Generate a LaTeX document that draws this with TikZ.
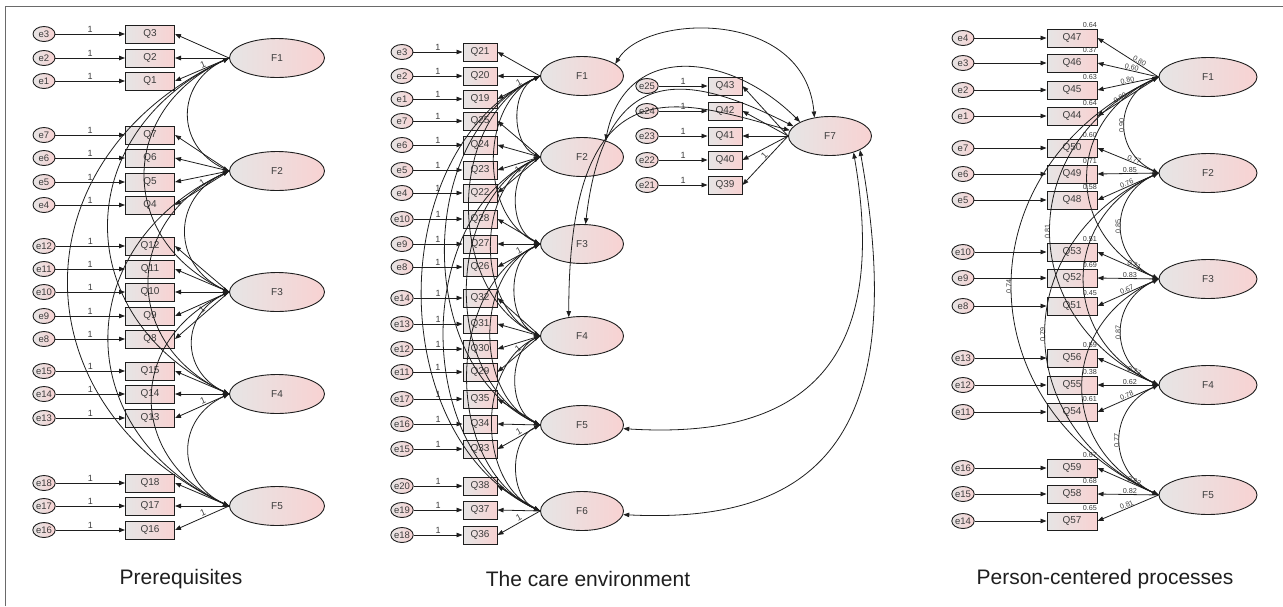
\documentclass[tikz,border=0pt]{standalone}
\usepackage{fontspec}
\setmainfont{Liberation Sans}
\usetikzlibrary{arrows.meta,shapes.geometric,positioning}
\definecolor{ink}{HTML}{1E1E1E}
\definecolor{txt}{HTML}{3C3C3C}
\definecolor{frame}{HTML}{6A6A6A}
\definecolor{shadeL}{HTML}{E6E5E5}
\definecolor{shadeR}{HTML}{F8D2D2}

\begin{document}
\begin{tikzpicture}[
  x=1pt,y=1pt,
  err/.style={ellipse,draw=ink,line width=.9pt,left color=shadeL,right color=shadeR,
              minimum width=22pt,minimum height=15pt,inner sep=0pt,
              font=\fontsize{9.5}{10}\selectfont,text=txt},
  obs/.style={rectangle,draw=ink,line width=1pt,left color=shadeL,right color=shadeR,
              minimum width=#1,minimum height=18pt,inner sep=0pt,
              font=\fontsize{10}{11}\selectfont,text=txt},
  lat/.style={ellipse,draw=ink,line width=.9pt,left color=shadeL,right color=shadeR,
              minimum width=#1,minimum height=39pt,inner sep=0pt,
              font=\fontsize{10}{11}\selectfont,text=txt},
  arr/.style={-{Triangle[length=6pt,width=4.5pt]},draw=ink,line width=.8pt},
  cov/.style={{Triangle[length=6pt,width=4.5pt]}-{Triangle[length=6pt,width=4.5pt]},
              draw=ink,line width=.8pt},
  covarc/.style={cov,out=205,in=155,looseness=#1},
  one/.style={font=\fontsize{9}{10}\selectfont,text=txt,inner sep=1pt},
  est/.style={font=\fontsize{7.2}{8}\selectfont,text=txt,inner sep=.4pt},
  caption/.style={font=\fontsize{21}{25}\selectfont,text=ink}
]
\useasboundingbox (0,0) rectangle (1283,-606);
\draw[frame,line width=1pt] (5,-606) -- (5,-6) -- (1283,-6);

% prerequisites
\foreach \q/\y in {3/34,2/58,1/81,7/135,6/158,5/182,4/205,12/246,11/269,10/292,9/316,8/339,
                   15/371,14/394,13/418,18/483,17/506,16/530}{
  \node[obs=49pt] (pQ\q) at (150,-\y) {Q\q};
  \node[err] (pe\q) at (44,-\y) {e\q};
  \draw[arr] (pe\q) -- node[one,above]{1} (pQ\q);
}
\foreach \f/\y in {1/58,2/171,3/292,4/394,5/506}
  \node[lat=95pt] (pF\f) at (277,-\y) {F\f};
\foreach \f/\qs in {1/{3,2,1},2/{7,6,5,4},3/{12,11,10,9,8},4/{15,14,13},5/{18,17,16}}{
  \foreach \q in \qs {\draw[arr] (pF\f.west) -- (pQ\q.east);}
}
\foreach \f/\q in {1/1,2/4,3/8,4/13,5/16}
  \path (pF\f.west) -- node[one,sloped,above,pos=.45]{1} (pQ\q.east);
\foreach \i/\j in {1/2,1/3,1/4,1/5,2/3,2/4,2/5,3/4,3/5,4/5}
  \draw[covarc=1.35] (pF\i.west) to (pF\j.west);
\node[caption] (cap1) at (181,-579) {Prerequisites};

% care environment
\foreach \q/\e/\y in {21/3/52,20/2/76,19/1/99,25/7/121,24/6/145,23/5/170,22/4/193,
                      28/10/219,27/9/244,26/8/267,32/14/298,31/13/324,30/12/349,29/11/372,
                      35/17/399,34/16/424,33/15/449,38/20/486,37/19/510,36/18/535}{
  \node[obs=34pt] (mQ\q) at (480,-\y) {Q\q};
  \node[err] (me\e) at (402,-\y) {e\e};
  \draw[arr] (me\e) -- node[one,above]{1} (mQ\q);
}
\foreach \q/\e/\y in {43/25/86,42/24/111,41/23/136,40/22/160,39/21/185}{
  \node[obs=34pt] (mQ\q) at (725,-\y) {Q\q};
  \node[err] (me\e) at (647,-\y) {e\e};
  \draw[arr] (me\e) -- node[one,above]{1} (mQ\q);
}
\foreach \f/\y in {1/76,2/157,3/244,4/336,5/425,6/511}
  \node[lat=83pt] (mF\f) at (582,-\y) {F\f};
\node[lat=83pt] (mF7) at (830,-136) {F7};
\foreach \f/\qs in {1/{21,20,19},2/{25,24,23,22},3/{28,27,26},4/{32,31,30,29},
                    5/{35,34,33},6/{38,37,36},7/{43,42,41,40,39}}{
  \foreach \q in \qs {\draw[arr] (mF\f.west) -- (mQ\q.east);}
}
\foreach \f/\q in {1/19,2/22,3/26,4/29,5/33,6/36,7/39}
  \path (mF\f.west) -- node[one,sloped,above,pos=.45]{1} (mQ\q.east);
\foreach \i/\j in {1/2,1/3,1/4,1/5,1/6,2/3,2/4,2/5,2/6,3/4,3/5,3/6,4/5,4/6,5/6}
  \draw[covarc=1.02] (mF\i.west) to (mF\j.west);
\draw[cov] (mF1.20) .. controls +(30,50) and +(-10,110) .. (mF7.130);
\draw[cov] (mF2.35) .. controls +(20,100) and +(-70,70) .. (mF7.155);
\draw[cov] (mF3.80) .. controls +(20,170) and +(-100,50) .. (mF7.165);
\draw[cov] (mF4.125) .. controls +(0,260) and +(-110,30) .. (mF7.172);
\draw[cov] (mF7.-35) .. controls +(40,-230) and +(160,-10) .. (mF5.-5);
\draw[cov] (mF7.-25) .. controls +(50,-280) and +(200,-10) .. (mF6.-5);
\node[caption] (cap2) at (588,-579) {The care environment};

% person-centered processes
\foreach \q/\e/\y/\r in {47/4/38/0.64,46/3/63/0.37,45/2/90/0.63,44/1/116/0.64,
                         50/7/148/0.60,49/6/174/0.71,48/5/200/0.58,
                         53/10/252/0.51,52/9/278/0.69,51/8/306/0.45,
                         56/13/358/0.59,55/12/385/0.38,54/11/412/0.61,
                         59/16/468/0.67,58/15/494/0.68,57/14/521/0.65}{
  \node[obs=50pt] (xQ\q) at (1072,-\y) {Q\q};
  \node[err] (xe\e) at (963,-\y) {e\e};
  \node[est,anchor=south east] (xr\q) at (xQ\q.north east) {\r};
  \draw[arr] (xe\e) -- (xQ\q);
}
\foreach \f/\y in {1/77,2/173,3/279,4/385,5/495}
  \node[lat=98pt] (xF\f) at (1208,-\y) {F\f};
\foreach \f/\q/\v/\p in {1/47/0.80/.34,1/46/0.60/.45,1/45/0.80/.5,1/44/0.80/.6,
                         2/50/0.77/.42,2/49/0.85/.47,2/48/0.76/.5,
                         3/53/0.71/.42,3/52/0.83/.47,3/51/0.67/.5,
                         4/56/0.77/.42,4/55/0.62/.47,4/54/0.78/.5,
                         5/59/0.82/.42,5/58/0.82/.47,5/57/0.81/.5}
  \draw[arr] (xF\f.west) -- node[est,sloped,above,pos=\p]{\v} (xQ\q.east);
\foreach \i/\j/\v in {1/2/0.90,2/3/0.85,3/4/0.87,4/5/0.77,1/4/0.81,2/5/0.79,1/5/0.74}
  \draw[covarc=1.32] (xF\i.west) to node[est,rotate=90,anchor=south]{\v} (xF\j.west);
\foreach \i/\j in {1/3,2/4,3/5}
  \draw[covarc=1.32] (xF\i.west) to (xF\j.west);
\node[caption] (cap3) at (1105,-579) {Person-centered processes};
\end{tikzpicture}
\end{document}
